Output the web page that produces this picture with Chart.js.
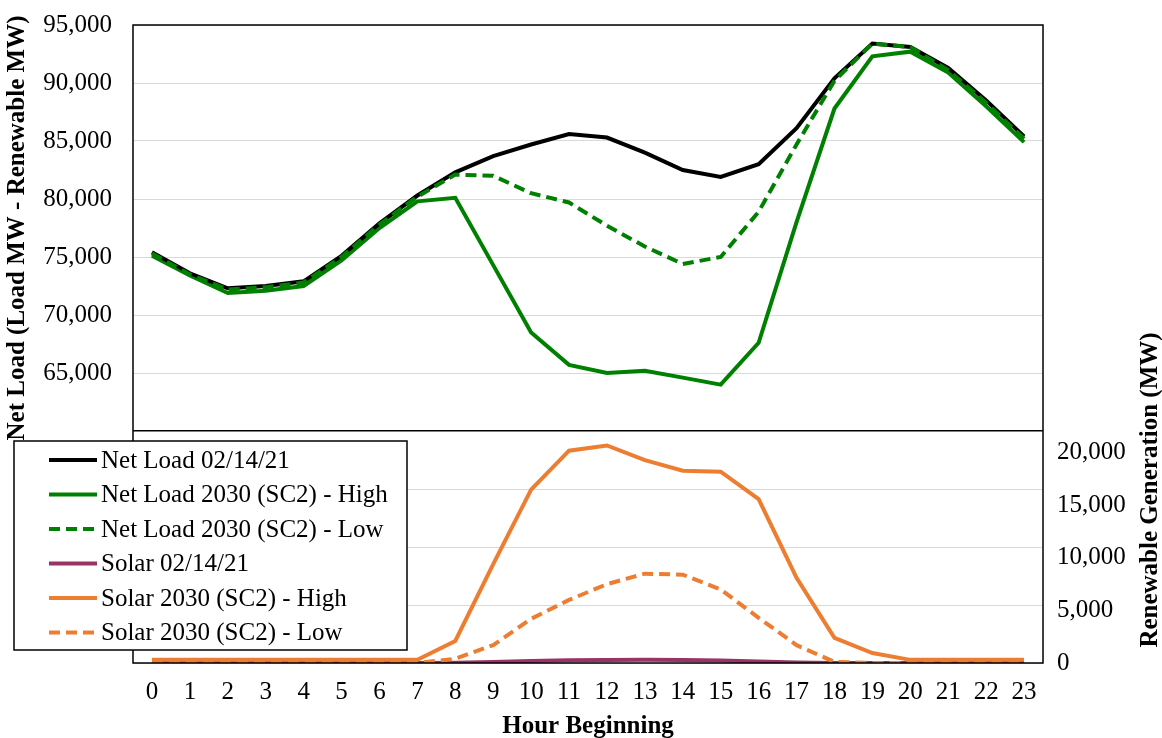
<!DOCTYPE html>
<html>
<head>
<meta charset="utf-8">
<script src="https://cdn.jsdelivr.net/npm/chart.js@4.4.1/dist/chart.umd.min.js"></script>
<style>
html, body { margin: 0; padding: 0; background: #fff; }
#wrap { width: 1162px; height: 738px; position: relative; overflow: hidden; }
</style>
</head>
<body>
<div id="wrap"><canvas id="chart" width="1162" height="738"></canvas></div>
<script>
// hour of day
const hours = ['0','1','2','3','4','5','6','7','8','9','10','11','12','13','14','15','16','17','18','19','20','21','22','23'];

// net load, MW (left axis)
const netLoad2021 = [75400, 73600, 72300, 72500, 72900, 75100, 77900, 80300, 82300, 83700, 84700, 85600, 85300, 84000, 82500, 81900, 83000, 86100, 90400, 93400, 93100, 91300, 88500, 85400];
const netLoadHigh = [75100, 73400, 71900, 72100, 72500, 74700, 77500, 79800, 80100, 74300, 68500, 65700, 65000, 65200, 64600, 64000, 67600, 78000, 87800, 92300, 92700, 90900, 88000, 84900];
const netLoadLow  = [75300, 73500, 72200, 72400, 72800, 75000, 77800, 80200, 82100, 82000, 80500, 79700, 77700, 75900, 74400, 75000, 78900, 84700, 90200, 93400, 93100, 91100, 88300, 85200];

// solar generation, MW (right axis)
const solar2021  = [0, 0, 0, 0, 0, 0, 0, 0, 20, 100, 200, 260, 290, 300, 280, 240, 150, 50, 0, 0, 0, 0, 0, 0];
const solarHigh  = [300, 300, 300, 300, 300, 300, 300, 300, 2100, 9400, 16500, 20200, 20700, 19300, 18300, 18200, 15600, 8100, 2400, 950, 300, 300, 300, 300];
const solarLow   = [0, 0, 0, 0, 0, 0, 0, 0, 400, 1700, 4200, 6000, 7500, 8500, 8400, 7000, 4300, 1700, 100, 0, 0, 0, 0, 0];

// right axis tick labels
const rightTicks = [0, 5000, 10000, 15000, 20000];

const serif = '"Liberation Serif", "Times New Roman", serif';
const green = '#008000', orange = '#ED7D31', purple = '#993366';

function line(label, data, color, axis, dashed, order) {
    return {
        label: label,
        data: data,
        yAxisID: axis,
        borderColor: color,
        backgroundColor: color,
        borderWidth: 4,
        borderDash: dashed ? [11, 6] : [],
        pointRadius: 0,
        tension: 0,
        fill: false,
        order: order
    };
}

// frame, axis titles and the boxed legend
const decor = {
    id: 'decor',
    afterDraw(chart) {
        const ctx = chart.ctx, a = chart.chartArea;
        const sep = chart.scales.y.getPixelForValue(60000);
        ctx.save();
        ctx.strokeStyle = '#000';
        ctx.lineWidth = 1.5;
        ctx.strokeRect(a.left, a.top, a.right - a.left, a.bottom - a.top);

        ctx.fillStyle = '#000';
        ctx.font = 'bold 25px ' + serif;
        ctx.textAlign = 'center';
        ctx.textBaseline = 'middle';
        ctx.fillText('Hour Beginning', (a.left + a.right) / 2, 727);

        ctx.save();
        ctx.translate(18, (a.top + sep) / 2);
        ctx.rotate(-Math.PI / 2);
        ctx.fillText('Net Load (Load MW - Renewable MW)', 0, 0);
        ctx.restore();

        ctx.save();
        ctx.translate(1151, 490);
        ctx.rotate(-Math.PI / 2);
        ctx.fillText('Renewable Generation (MW)', 0, 0);
        ctx.restore();

        // legend
        const lx = 14, ly = 441, lw = 393, lh = 209, row = 34.5;
        ctx.fillStyle = '#fff';
        ctx.fillRect(lx, ly, lw, lh);
        ctx.lineWidth = 1.5;
        ctx.strokeStyle = '#000';
        ctx.strokeRect(lx, ly, lw, lh);
        ctx.font = '25px ' + serif;
        ctx.textAlign = 'left';
        chart.data.datasets.forEach(function (ds, i) {
            const cy = ly + 19 + i * row;
            ctx.strokeStyle = ds.borderColor;
            ctx.lineWidth = 4;
            ctx.setLineDash(ds.borderDash);
            ctx.beginPath();
            ctx.moveTo(49, cy);
            ctx.lineTo(97, cy);
            ctx.stroke();
            ctx.setLineDash([]);
            ctx.fillStyle = '#000';
            ctx.fillText(ds.label, 101, cy + 1);
        });
        ctx.restore();
    }
};

new Chart(document.getElementById('chart'), {
    type: 'line',
    data: {
        labels: hours,
        datasets: [
            line('Net Load 02/14/21', netLoad2021, '#000000', 'y', false, 2),
            line('Net Load 2030 (SC2) - High', netLoadHigh, green, 'y', false, 3),
            line('Net Load 2030 (SC2) - Low', netLoadLow, green, 'y', true, 1),
            line('Solar 02/14/21', solar2021, purple, 'y2', false, 6),
            line('Solar 2030 (SC2) - High', solarHigh, orange, 'y2', false, 5),
            line('Solar 2030 (SC2) - Low', solarLow, orange, 'y2', true, 4)
        ]
    },
    options: {
        responsive: false,
        animation: false,
        devicePixelRatio: 1,
        layout: { padding: { top: 25, left: 0, right: 0, bottom: 0 } },
        plugins: { legend: { display: false }, tooltip: { enabled: false }, title: { display: false } },
        scales: {
            x: {
                offset: true,
                grid: { display: false, drawTicks: false },
                border: { display: false },
                ticks: { color: '#000', font: { family: serif, size: 25 }, padding: 14, maxRotation: 0, autoSkip: false },
                afterFit(s) { s.height = 75; }
            },
            y: {
                position: 'left',
                min: 40000,
                max: 95000,
                border: { display: false },
                grid: {
                    drawTicks: false,
                    color: function (c) { return c.tick && c.tick.value === 60000 ? '#000' : '#d9d9d9'; },
                    lineWidth: function (c) { return c.tick && c.tick.value === 60000 ? 1.5 : 1; }
                },
                ticks: {
                    stepSize: 5000,
                    maxTicksLimit: 20,
                    autoSkip: false,
                    color: '#000',
                    padding: 21,
                    font: { family: serif, size: 25 },
                    callback: function (v) { return v >= 65000 ? v.toLocaleString('en-US') : ''; }
                },
                afterFit(s) { s.width = 133; s.paddingTop = 0; s.paddingBottom = 0; }
            },
            y2: {
                position: 'right',
                min: 0,
                max: 60700,
                border: { display: false },
                grid: { display: false, drawTicks: false },
                ticks: {
                    autoSkip: false,
                    color: '#000',
                    padding: 14,
                    font: { family: serif, size: 25 },
                    callback: function (v) { return v.toLocaleString('en-US'); }
                },
                afterBuildTicks(s) { s.ticks = rightTicks.map(function (v) { return { value: v }; }); },
                afterFit(s) { s.width = 119; s.paddingTop = 0; s.paddingBottom = 0; }
            }
        }
    },
    plugins: [decor]
});
</script>
</body>
</html>
